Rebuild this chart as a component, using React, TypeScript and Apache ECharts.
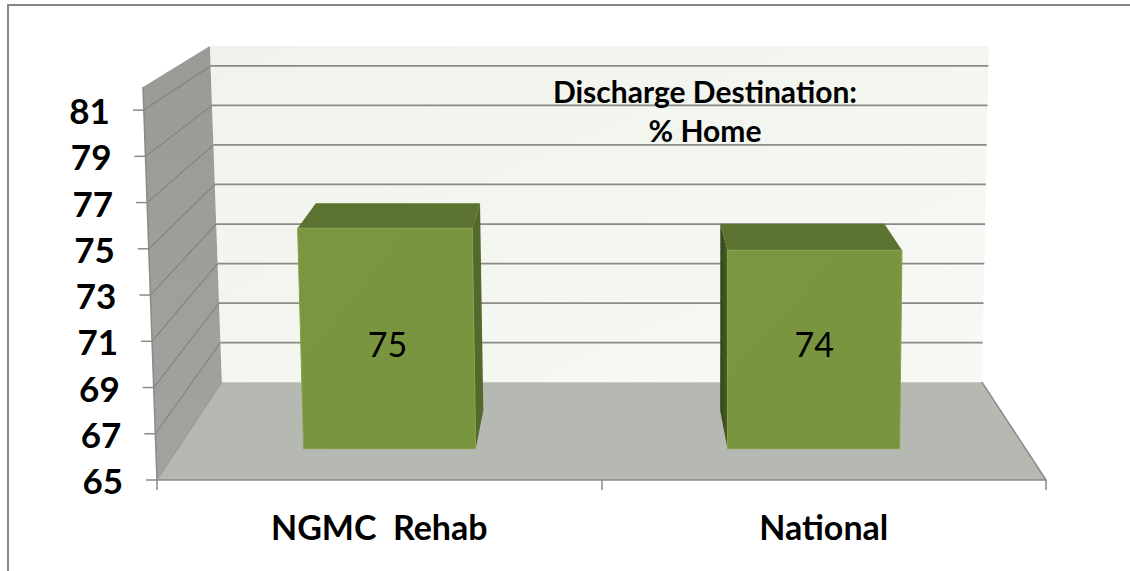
import React, { useEffect, useRef } from 'react';
import * as echarts from 'echarts';

// ---- data ----
const categories = ['NGMC  Rehab', 'National'];
const values = [75, 74];
const yTicks = [65, 67, 69, 71, 73, 75, 77, 79, 81];
const yMin = 65;
const yMax = 82;
const titleText = 'Discharge Destination:\n% Home';

// ---- layout / style constants ----
const FONT = 'Lato, "Open Sans", sans-serif';
const VP = [604, -195]; // vanishing point of the depth direction
const DEPTH = 0.145; // how far the back wall recedes toward VP
const TILT_L = -14; // top of the left front edge leans left
const TILT_R = 8;
const BAR_HALF = 0.203; // half bar width in category units
const BAR_W0 = 0.32; // bar front depth
const BAR_W1 = 0.71; // bar back depth
const LABEL_LEVEL = 69.75;
const GRID_COLOR = '#8a8a8a';

function proj(api: any, x: number, v: number, w: number): number[] {
  const c = api.coord([x, v]);
  const u = x / 2;
  const t = (v - yMin) / (yMax - yMin);
  const sx = c[0] + ((1 - u) * TILT_L + u * TILT_R) * t;
  const k = w * DEPTH;
  return [sx + k * (VP[0] - sx), c[1] + k * (VP[1] - c[1])];
}

export default function App() {
  const ref = useRef<HTMLDivElement>(null);
  useEffect(() => {
    if (!ref.current) return;
    const chart = echarts.init(ref.current, null, { renderer: 'svg' });

    const wallsSeries = {
      type: 'custom',
      xAxisIndex: 1,
      yAxisIndex: 0,
      z: 1,
      silent: true,
      data: [[0, yMin]],
      renderItem: (params: any, api: any) => {
        const P = (x: number, v: number, w: number) => proj(api, x, v, w);
        const children: any[] = [];
        children.push({
          type: 'polygon',
          shape: { points: [P(0, yMin, 1), P(2, yMin, 1), P(2, yMax, 1), P(0, yMax, 1)] },
          style: {
            fill: new echarts.graphic.LinearGradient(0, 0, 1, 1, [
              { offset: 0, color: '#f0f3ec' },
              { offset: 1, color: '#f7f9f4' },
            ]),
          },
        });
        children.push({
          type: 'polygon',
          shape: { points: [P(0, yMin, 0), P(0, yMin, 1), P(0, yMax, 1), P(0, yMax, 0)] },
          style: {
            fill: new echarts.graphic.LinearGradient(0, 0, 0, 1, [
              { offset: 0, color: '#999b96' },
              { offset: 1, color: '#a1a39d' },
            ]),
          },
        });
        children.push({
          type: 'polygon',
          shape: { points: [P(0, yMin, 0), P(2, yMin, 0), P(2, yMin, 1), P(0, yMin, 1)] },
          style: { fill: '#b6b9b2' },
        });
        yTicks.forEach((v) => {
          if (v === yMin) return;
          const a = P(0, v, 1);
          const b = P(2, v, 1);
          children.push({
            type: 'line',
            shape: { x1: a[0], y1: a[1], x2: b[0], y2: b[1] },
            style: { stroke: GRID_COLOR, lineWidth: 1.75 },
          });
          const f = P(0, v, 0);
          children.push({
            type: 'line',
            shape: { x1: f[0], y1: f[1], x2: a[0], y2: a[1] },
            style: { stroke: '#82847f', lineWidth: 1.2 },
          });
        });
        const fr0 = P(2, yMin, 0);
        const fr1 = P(2, yMin, 1);
        children.push({
          type: 'line',
          shape: { x1: fr0[0], y1: fr0[1], x2: fr1[0], y2: fr1[1] },
          style: { stroke: GRID_COLOR, lineWidth: 1.5 },
        });
        const fl0 = P(0, yMin, 0);
        const fl1 = P(0, yMin, 1);
        children.push({
          type: 'line',
          shape: { x1: fl0[0], y1: fl0[1], x2: fl1[0], y2: fl1[1] },
          style: { stroke: '#9a9c97', lineWidth: 1.2 },
        });
        const e0 = P(0, yMin, 0);
        const e1 = P(0, yMax, 0);
        children.push({
          type: 'line',
          shape: { x1: e0[0], y1: e0[1], x2: e1[0], y2: e1[1] },
          style: { stroke: GRID_COLOR, lineWidth: 1.5 },
        });
        return { type: 'group', children };
      },
    };

    const barsSeries = {
      type: 'custom',
      xAxisIndex: 1,
      yAxisIndex: 0,
      z: 2,
      data: values.map((v, i) => [i, v]),
      renderItem: (params: any, api: any) => {
        const i = api.value(0);
        const v = api.value(1);
        const P = (x: number, val: number, w: number) => proj(api, x, val, w);
        const xc = i + 0.5;
        const xl = xc - BAR_HALF;
        const xr = xc + BAR_HALF;
        const children: any[] = [];
        const centerX = P(xc, yMin, BAR_W0)[0];
        const rightVisible = centerX < VP[0];
        const sx = rightVisible ? xr : xl;
        children.push({
          type: 'polygon',
          shape: { points: [P(sx, yMin, BAR_W0), P(sx, yMin, BAR_W1), P(sx, v, BAR_W1), P(sx, v, BAR_W0)] },
          style: {
            fill: rightVisible
              ? '#55692b'
              : new echarts.graphic.LinearGradient(0, 0, 1, 0, [
                  { offset: 0, color: '#33441b' },
                  { offset: 1, color: '#4a5f26' },
                ]),
          },
        });
        children.push({
          type: 'polygon',
          shape: { points: [P(xl, v, BAR_W0), P(xr, v, BAR_W0), P(xr, v, BAR_W1), P(xl, v, BAR_W1)] },
          style: { fill: '#5c7231' },
        });
        children.push({
          type: 'polygon',
          shape: { points: [P(xl, yMin, BAR_W0), P(xr, yMin, BAR_W0), P(xr, v, BAR_W0), P(xl, v, BAR_W0)] },
          style: {
            fill: new echarts.graphic.LinearGradient(0, 0, 1, 1, [
              { offset: 0, color: '#7a9640' },
              { offset: 1, color: '#78943e' },
            ]),
            stroke: '#87a34c',
            lineWidth: 1,
          },
        });
        const lp = P(xc, LABEL_LEVEL, BAR_W0);
        children.push({
          type: 'text',
          style: {
            x: lp[0],
            y: lp[1],
            text: String(v),
            fill: '#000',
            fontSize: 34,
            fontFamily: FONT,
            align: 'center',
            verticalAlign: 'middle',
          },
        });
        return { type: 'group', children };
      },
    };

    const ticksSeries = {
      type: 'custom',
      xAxisIndex: 1,
      yAxisIndex: 0,
      z: 3,
      silent: true,
      data: yTicks.map((v) => [0, v]),
      renderItem: (params: any, api: any) => {
        const v = api.value(1);
        const p = proj(api, 0, v, 0);
        return {
          type: 'group',
          children: [
            {
              type: 'line',
              shape: { x1: p[0] - 11, y1: p[1], x2: p[0], y2: p[1] },
              style: { stroke: GRID_COLOR, lineWidth: 1.5 },
            },
            {
              type: 'text',
              style: {
                x: p[0] - 34,
                y: p[1],
                text: String(v),
                fill: '#000',
                fontSize: 35,
                fontWeight: 'bold',
                fontFamily: FONT,
                align: 'right',
                verticalAlign: 'middle',
              },
            },
          ],
        };
      },
    };

    chart.setOption({
      animation: false,
      backgroundColor: '#ffffff',
      title: {
        text: titleText,
        left: 705,
        top: 71,
        textAlign: 'center',
        padding: 0,
        textStyle: {
          fontSize: 30,
          fontWeight: 'bold',
          fontFamily: FONT,
          color: '#000',
          lineHeight: 39,
        },
      },
      grid: { left: 157, right: 84, top: 87, bottom: 91 },
      xAxis: [
        {
          type: 'category',
          data: categories,
          boundaryGap: true,
          axisLine: { lineStyle: { color: GRID_COLOR, width: 1.5 } },
          axisTick: { show: true, length: 10, interval: 0, lineStyle: { color: GRID_COLOR, width: 1.5 } },
          axisLabel: {
            fontSize: 34,
            fontWeight: 'bold',
            fontFamily: FONT,
            color: '#000',
            margin: 26,
            lineHeight: 40,
          },
          splitLine: { show: false },
          z: 4,
        },
        { type: 'value', min: 0, max: 2, show: false },
      ],
      yAxis: { type: 'value', min: yMin, max: yMax, show: false },
      graphic: [
        {
          type: 'rect',
          shape: { x: 8, y: 5, width: 1300, height: 800 },
          style: { fill: 'none', stroke: '#868686', lineWidth: 2 },
          silent: true,
          z: 10,
        },
      ],
      series: [wallsSeries, barsSeries, ticksSeries],
    });
    return () => chart.dispose();
  }, []);
  return (
    <div
      ref={ref}
      style={{ position: 'fixed', left: 0, top: 0, width: 1130, height: 571, background: '#fff' }}
    />
  );
}
